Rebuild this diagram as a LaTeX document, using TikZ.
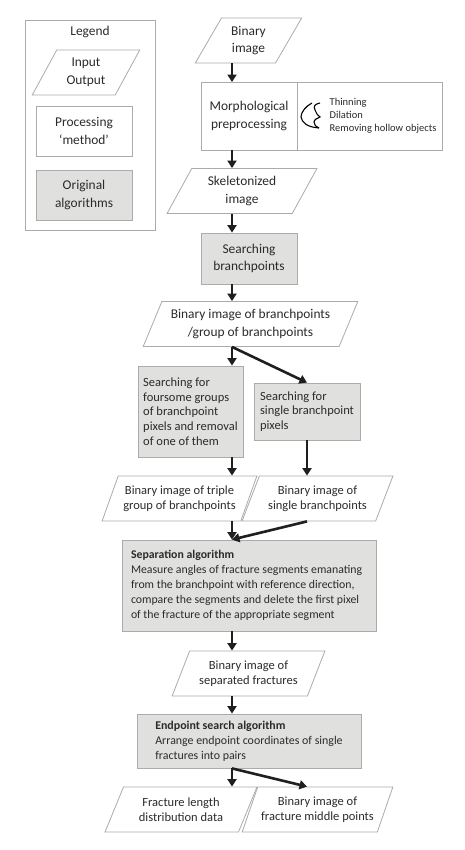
\documentclass[tikz,border=0pt]{standalone}
\usepackage{fontspec}
\setmainfont{Carlito}
\usetikzlibrary{shapes.geometric,arrows.meta}
\definecolor{boxline}{HTML}{ABABAB}
\definecolor{boxfill}{HTML}{E0E0DE}
\definecolor{boxtext}{HTML}{2B2B2B}
\tikzset{
	parabox/.style={trapezium, trapezium left angle=60, trapezium right angle=120, trapezium stretches=true,
		draw=boxline, line width=0.8pt, fill=white, text=boxtext, inner sep=0pt, align=center,
		minimum height=45pt, font=\fontsize{13.4}{17.5}\selectfont},
	procbox/.style={rectangle, draw=boxline, line width=0.8pt, fill=white, text=boxtext, inner sep=0pt, align=center,
		font=\fontsize{13.4}{17.5}\selectfont},
	algobox/.style={procbox, fill=boxfill},
	flow/.style={-{Triangle[length=7.5pt,width=9pt]}, line width=2.6pt, color=black!88},
}
\begin{document}
\begin{tikzpicture}[x=1pt,y=-1pt]
	\useasboundingbox (0,0) rectangle (465,850);
	\fill[white] (0,0) rectangle (465,850);
	\coordinate (spine) at (232,0);
	\coordinate (spinetwo) at (307,0);

	% legend
	\node[procbox, minimum width=130pt, minimum height=210pt] (legend) at (90,125) {};
	\node[text=boxtext, font=\fontsize{13.4}{17.5}\selectfont] (legendtitle) at (90,32) {Legend};
	\node[parabox, minimum width=108pt] (legendio) at (86,72.5) {Input\\Output};
	\node[procbox, minimum width=96pt, minimum height=50pt] (legendproc) at (84,131) {Processing\\`method'};
	\node[algobox, minimum width=96pt, minimum height=50pt] (legendalgo) at (84,195) {Original\\algorithms};

	% upper part of the chain
	\node[parabox, minimum width=107pt] (binimg) at (248.5,40.5) {Binary\\image};
	\node[procbox, minimum width=96pt, minimum height=67.5pt] (morph) at (249,116.2) {Morphological\\preprocessing};
	\node[procbox, minimum width=144.5pt, minimum height=67.5pt, anchor=west] (morphlist) at (morph.east) {};
	\node[anchor=west, text=boxtext, inner sep=0pt, align=left, font=\fontsize{10.5}{13}\selectfont] (morphtext) at (329.5,116) {Thinning\\Dilation\\Removing hollow objects};
	\draw[line width=1.1pt, black] (312,103) .. controls (306,106) and (301,112) .. (301,117) .. controls (302,122) and (306,127) .. (319,128);
	\draw[line width=1.1pt, black] (320,103) .. controls (315,104) and (313,106) .. (315,110) .. controls (316,113) and (318,116) .. (320,117) .. controls (317,118) and (314,120) .. (314,122) .. controls (314,125) and (316,127) .. (319,128);
	\node[parabox, minimum width=150pt] (skel) at (242,191) {Skeletonized\\image};
	\node[algobox, minimum width=96pt, minimum height=51pt] (searchbp) at (249,258.5) {Searching\\branchpoints};
	\node[parabox, minimum width=215pt] (bpimg) at (250.5,324) {Binary image of branchpoints\\/group of branchpoints};

	% two branches
	\node[algobox, minimum width=105pt, minimum height=91pt, align=left, font=\fontsize{12.5}{14.7}\selectfont] (foursome) at (190.5,411.5) {Searching for\\foursome groups\\of branchpoint\\pixels and removal\\of one of them};
	\node[algobox, minimum width=106pt, minimum height=57pt, align=left, font=\fontsize{12.5}{14.7}\selectfont] (singlebp) at (307,411.5) {Searching for\\single branchpoint\\pixels};
	\node[parabox, minimum width=155pt, font=\fontsize{12.5}{14.7}\selectfont] (tripleimg) at (179.5,498.5) {Binary image of triple\\group of branchpoints};
	\node[parabox, minimum width=151pt, font=\fontsize{12.5}{14.7}\selectfont] (singleimg) at (317.5,498.5) {Binary image of\\single branchpoints};

	% lower part of the chain
	\node[algobox, minimum width=254pt, minimum height=91pt, align=left, font=\fontsize{11.8}{15.1}\selectfont] (separation) at (249,585.5) {\makebox[236pt][l]{\textbf{Separation algorithm}}\\Measure angles of fracture segments emanating\\from the branchpoint with reference direction,\\compare the segments and delete the first pixel\\of the fracture of the appropriate segment};
	\node[parabox, minimum width=153pt, font=\fontsize{12.5}{14.7}\selectfont] (sepimg) at (248.5,673.5) {Binary image of\\separated fractures};
	\node[algobox, minimum width=224pt, minimum height=54pt, align=left, font=\fontsize{11.9}{15.1}\selectfont] (endpoint) at (249,741) {\textbf{Endpoint search algorithm}\\Arrange endpoint coordinates of single\\fractures into pairs};
	\node[parabox, minimum width=152pt, font=\fontsize{12.5}{14.7}\selectfont] (lengthdata) at (181,809.5) {Fracture length\\distribution data};
	\node[parabox, minimum width=151pt, font=\fontsize{12.5}{14.7}\selectfont] (middleimg) at (317.5,809.5) {Binary image of\\fracture middle points};

	% arrows
	\draw[flow] (binimg.south -| spine) -- (morph.north -| spine);
	\draw[flow] (morph.south -| spine) -- (skel.north -| spine);
	\draw[flow] (skel.south -| spine) -- (searchbp.north -| spine);
	\draw[flow] (searchbp.south -| spine) -- (bpimg.north -| spine);
	\draw[flow] (bpimg.south -| spine) -- (foursome.north -| spine);
	\draw[flow] (bpimg.south -| spine) -- (singlebp.north -| spinetwo);
	\draw[flow] (foursome.south -| spine) -- (tripleimg.north -| spine);
	\draw[flow] (singlebp.south -| spinetwo) -- (singleimg.north -| spinetwo);
	\draw[flow] (tripleimg.south -| spine) -- (separation.north -| spine);
	\draw[flow] (singleimg.south -| spinetwo) -- (separation.north -| spine);
	\draw[flow] (separation.south -| spine) -- (sepimg.north -| spine);
	\draw[flow] (sepimg.south -| spine) -- (endpoint.north -| spine);
	\draw[flow] (endpoint.south -| spine) -- (lengthdata.north -| spine);
	\draw[flow] (endpoint.south -| spine) -- (middleimg.north -| spinetwo);
\end{tikzpicture}
\end{document}
